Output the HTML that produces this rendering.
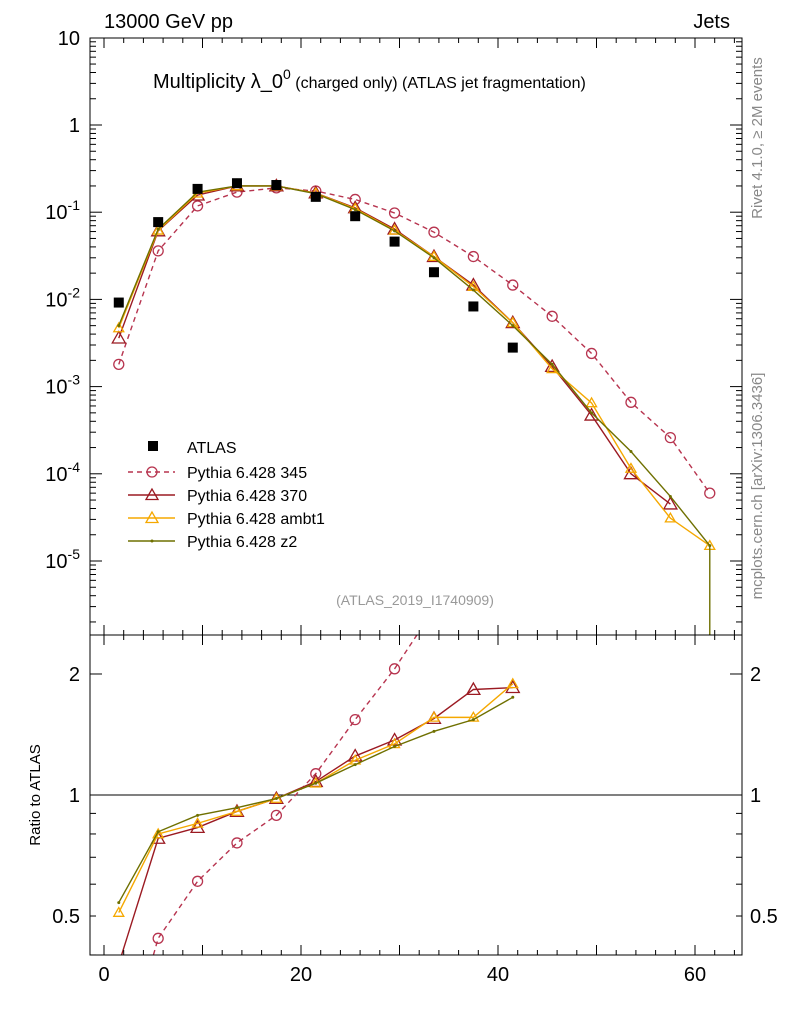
<!DOCTYPE html>
<html><head><meta charset="utf-8"><style>
html,body{margin:0;padding:0;background:#fff;width:786px;height:1024px;overflow:hidden;font-family:"Liberation Sans",sans-serif;}
svg{display:block}
text{font-family:"Liberation Sans",sans-serif;}
</style></head><body>
<svg id="c" width="786" height="1024" viewBox="0 0 786 1024" xmlns="http://www.w3.org/2000/svg"></svg>
<script>
const xs=[1.5,5.5,9.5,13.5,17.5,21.5,25.5,29.5,33.5,37.5,41.5,45.5,49.5,53.5,57.5,61.5];
const atlas=[0.0092,0.077,0.185,0.215,0.205,0.15,0.09,0.046,0.0205,0.0083,0.0028];
const p345=[0.0018,0.036,0.118,0.17,0.19,0.175,0.14,0.098,0.059,0.031,0.0146,0.0064,0.0024,0.00066,0.00026,0.00006];
const p370=[0.0036,0.061,0.157,0.2,0.2,0.166,0.112,0.064,0.031,0.0146,0.0054,0.0017,0.00047,0.0001,0.000045];
const pambt1=[0.0047,0.062,0.165,0.2,0.2,0.165,0.11,0.062,0.031,0.014,0.0054,0.0016,0.00065,0.000115,0.000031,0.000015];
const pz2=[0.005,0.064,0.17,0.2,0.2,0.163,0.107,0.061,0.03,0.0128,0.005,0.0018,0.0005,0.00018,0.000055,0.000015];
const r345=[0.2,0.44,0.61,0.76,0.89,1.13,1.54,2.06,2.9];
const r370=[0.38,0.78,0.83,0.91,0.98,1.08,1.25,1.37,1.55,1.83,1.85];
const rambt1=[0.51,0.8,0.85,0.91,0.98,1.07,1.22,1.34,1.56,1.56,1.89];
const rz2=[0.54,0.81,0.89,0.93,0.98,1.07,1.19,1.32,1.44,1.54,1.75];
const xticks=[0,20,40,60];
const NS="http://www.w3.org/2000/svg";
const svg=document.getElementById('c');
const L=90,R=742,T=38,M=635,B=955;
const X=v=>104+v*9.85;
const Y=v=>125-Math.log10(v)*87.2;
const YR=v=>795-Math.log10(v)*402;
function el(t,a,p){const e=document.createElementNS(NS,t);for(const k in a)e.setAttribute(k,a[k]);(p||svg).appendChild(e);return e;}
function tx(x,y,s,size,anchor,extra){const e=el('text',Object.assign({x:x,y:y,'font-size':size,'text-anchor':anchor||'start'},extra||{}));e.textContent=s;return e;}
const defs=el('defs',{});
const cp1=el('clipPath',{id:'cp1'},defs);el('rect',{x:L,y:T,width:R-L,height:M-T},cp1);
const cp2=el('clipPath',{id:'cp2'},defs);el('rect',{x:L,y:M,width:R-L,height:B-M},cp2);
const g1=el('g',{'clip-path':'url(#cp1)'});
const g2=el('g',{'clip-path':'url(#cp2)'});
let f=el('rect',{x:L,y:T,width:R-L,height:M-T,fill:'none',stroke:'#000','stroke-width':1});

f=el('rect',{x:L,y:M,width:R-L,height:B-M,fill:'none',stroke:'#000','stroke-width':1});

for(let v=0;v<=64;v+=2){const x=X(v);const big=v%10==0;const h=big?10:5;
 el('line',{x1:x,x2:x,y1:M,y2:M-h,stroke:'#000'});el('line',{x1:x,x2:x,y1:T,y2:T+h,stroke:'#000'});
 el('line',{x1:x,x2:x,y1:B,y2:B-h,stroke:'#000'});el('line',{x1:x,x2:x,y1:M,y2:M+h,stroke:'#000'});}
xticks.forEach(v=>{const t=tx(X(v),981,String(v),20,'middle');});
for(let d=-6;d<=1;d++){for(let m=1;m<10;m++){const v=m*Math.pow(10,d);const y=Y(v);if(y<T||y>M)continue;const h=m==1?12:6;
 el('line',{x1:L,x2:L+h,y1:y,y2:y,stroke:'#000'});el('line',{x1:R,x2:R-h,y1:y,y2:y,stroke:'#000'});}}
const ylabs=[['10',10],['1',1]];
ylabs.forEach(a=>{const t=tx(80,Y(a[1])+7,a[0],20,'end');});
[-1,-2,-3,-4,-5].forEach(e=>{const t=el('text',{x:80,y:Y(Math.pow(10,e))+7,'font-size':20,'text-anchor':'end'});
 
 t.innerHTML='10<tspan dy="-9" font-size="14">'+e+'</tspan>';});
for(const v of [0.4,0.5,0.6,0.7,0.8,0.9,1,2]){const y=YR(v);const h=(v==1||v==2)?12:6;
 el('line',{x1:L,x2:L+h,y1:y,y2:y,stroke:'#000'});el('line',{x1:R,x2:R-h,y1:y,y2:y,stroke:'#000'});}
[['2',2],['1',1],['0.5',0.5]].forEach(a=>{let t=tx(80,YR(a[1])+7,a[0],20,'end');
 t=tx(750,YR(a[1])+7,a[0],20,'start');});
el('line',{x1:L,x2:R,y1:YR(1),y2:YR(1),stroke:'#000'},g2);
const series=[
 {n:'345',d:p345,r:r345,c:'#b7344f',dash:'5,4',m:'circle'},
 {n:'370',d:p370,r:r370,c:'#9b1a22',dash:null,m:'tri'},
 {n:'ambt1',d:pambt1,r:rambt1,c:'#f5a800',dash:null,m:'tri'},
 {n:'z2',d:pz2,r:rz2,c:'#6f7000',dash:null,m:'dot'}];
function marker(g,m,x,y,c,s){
 if(m=='circle')el('circle',{cx:x,cy:y,r:s||4.5,fill:'none',stroke:c,'stroke-width':1.3},g);
 else if(m=='tri'){const r=s||6;el('polygon',{points:`${x},${y-r} ${x-r},${y+r*0.75} ${x+r},${y+r*0.75}`,fill:'none',stroke:c,'stroke-width':1.3},g);}
 else el('circle',{cx:x,cy:y,r:1.5,fill:c},g);}
series.forEach(s=>{
 const g=el('g',{},g1);
 const pts=s.d.map((v,i)=>X(xs[i])+','+Y(v)).join(' ');
 const a={points:pts,fill:'none',stroke:s.c,'stroke-width':1.4};if(s.dash)a['stroke-dasharray']=s.dash;
 el('polyline',a,g);
 s.d.forEach((v,i)=>marker(g,s.m,X(xs[i]),Y(v),s.c,s.m=='tri'?(s.n=='ambt1'?5:6.5):5));
 const gr=el('g',{},g2);
 const ar={points:s.r.map((v,i)=>X(xs[i])+','+YR(v)).join(' '),fill:'none',stroke:s.c,'stroke-width':1.4};if(s.dash)ar['stroke-dasharray']=s.dash;
 el('polyline',ar,gr);
 s.r.forEach((v,i)=>marker(gr,s.m,X(xs[i]),YR(v),s.c,s.m=='tri'?(s.n=='ambt1'?5:6.5):5));
});
el('line',{x1:X(61.5),x2:X(61.5),y1:Y(0.000015),y2:M,stroke:'#6f7000','stroke-width':1.4},g1);
const ga=el('g',{},g1);
atlas.forEach((v,i)=>el('rect',{x:X(xs[i])-5,y:Y(v)-5,width:10,height:10,fill:'#000'},ga));
const lg=el('g',{});
el('rect',{x:148,y:441,width:10,height:10,fill:'#000'},lg);tx(187,453,'ATLAS',16,'start',{}).setAttribute('fill','#000');
series.forEach((s,i)=>{const y=472+i*23;const a={x1:128,x2:175,y1:y,y2:y,stroke:s.c,'stroke-width':1.4};if(s.dash)a['stroke-dasharray']=s.dash;
 el('line',a,lg);marker(lg,s.m,152,y,s.c,s.m=='tri'?6:5);
 const t=tx(187,y+6,'Pythia 6.428 '+s.n,16);lg.appendChild(t);});
let t=tx(104,28,'13000 GeV pp',20);
t=tx(730,28,'Jets',20,'end');
t=el('text',{x:153,y:88,'font-size':20});
t.innerHTML='Multiplicity λ_0<tspan dy="-9" font-size="14">0</tspan><tspan dy="9" font-size="16"> (charged only) (ATLAS jet fragmentation)</tspan>';
t=tx(415,605,'(ATLAS_2019_I1740909)',14,'middle',{fill:'#999'});
t=tx(40,795,'Ratio to ATLAS',15,'middle',{transform:'rotate(-90 40 795)'});
t=tx(762,138,'Rivet 4.1.0, ≥ 2M events',15,'middle',{fill:'#888',transform:'rotate(-90 762 138)'});
t=tx(762,486,'mcplots.cern.ch [arXiv:1306.3436]',15,'middle',{fill:'#888',transform:'rotate(-90 762 486)'});
</script>
</body></html>
